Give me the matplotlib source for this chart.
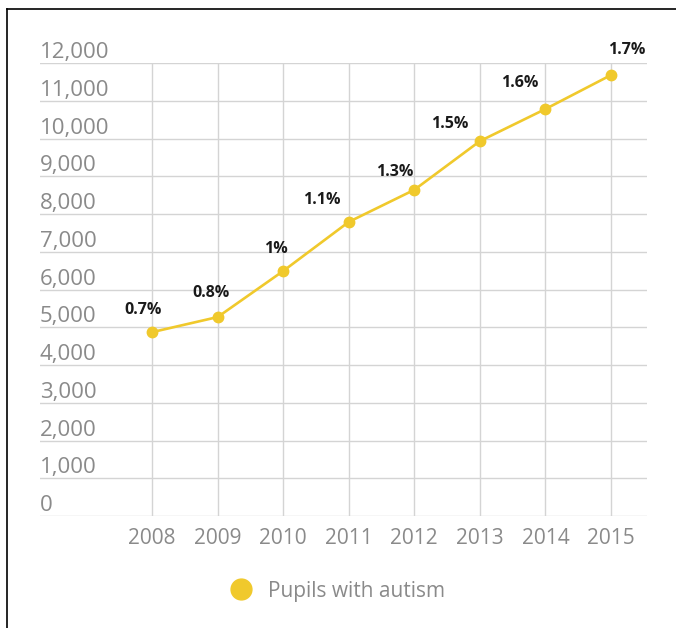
import matplotlib.pyplot as plt
from matplotlib.lines import Line2D

years = [2008, 2009, 2010, 2011, 2012, 2013, 2014, 2015]
pupils = [4870, 5270, 6490, 7790, 8640, 9930, 10780, 11680]
shares = ['0.7%', '0.8%', '1%', '1.1%', '1.3%', '1.5%', '1.6%', '1.7%']
y_ticks = list(range(0, 12001, 1000))
series_name = 'Pupils with autism'

gold = '#f0c92c'
grey = '#8a8a8a'

fig = plt.figure(figsize=(6.76, 6.28), dpi=100)
ax = fig.add_axes([40 / 676, 1 - 516 / 628, 607 / 676, 453 / 628])

ax.plot(years, pupils, color=gold, lw=1.9, marker='o', ms=7.5, zorder=3)

ax.set_xlim(2006.29, 2015.55)
ax.set_ylim(0, 12000)
ax.set_xticks(years)
ax.set_xticklabels([str(y) for y in years], fontsize=15, color=grey, family='Open Sans')
ax.set_yticks(y_ticks)
ax.set_yticklabels([])
ax.tick_params(length=0, axis='x', pad=9)
ax.tick_params(length=0, axis='y')
for s in ax.spines.values():
    s.set_visible(False)
ax.grid(True, color='#d4d4d4', lw=1.0)
ax.set_axisbelow(True)

# y labels sit above their gridline
for v in y_ticks:
    ax.text(0.0, v + 130, f'{v:,}', transform=ax.get_yaxis_transform(),
            ha='left', va='baseline', fontsize=16, color=grey, family='Open Sans')

# percentage labels, nudged by eye (pixel offsets)
offs = [(-9, 22), (-7, 24), (-7, 22), (-27, 22), (-20, 18), (-30, 17), (-26, 26), (16, 25)]
for x, y, t, (dx, dy) in zip(years, pupils, shares, offs):
    ax.annotate(t, (x, y), xytext=(dx * 0.72, dy * 0.72), textcoords='offset points',
                ha='center', va='center', fontsize=11.5, fontweight='bold',
                family='Open Sans', color='#1a1a1a')

handle = Line2D([], [], marker='o', ls='', color=gold, ms=15)
fig.legend([handle], [series_name], loc='center', bbox_to_anchor=(333 / 676, 1 - 591 / 628),
           frameon=False, labelcolor=grey, handletextpad=0.3,
           prop={'family': 'Open Sans', 'size': 15})

# screenshot border (top and left only)
fig.add_artist(Line2D([7 / 676, 7 / 676], [0, 1 - 9 / 628], color='black', lw=1.2))
fig.add_artist(Line2D([7 / 676, 1], [1 - 9 / 628, 1 - 9 / 628], color='black', lw=1.2))

fig.savefig('out.png', dpi=100)
